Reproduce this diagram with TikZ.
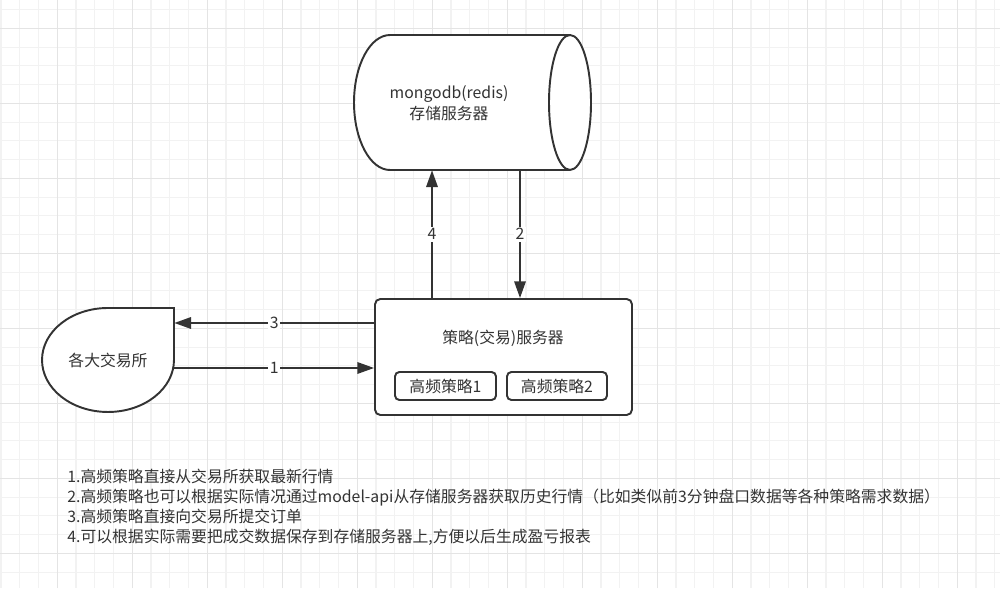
\documentclass[tikz,border=0pt]{standalone}
\usepackage{fontspec}
\setmainfont{Noto Sans CJK SC}
\usepackage{xcolor}
\usetikzlibrary{arrows.meta,positioning,calc}
\definecolor{linegray}{HTML}{333333}
\definecolor{gridminor}{HTML}{F2F2F2}
\definecolor{gridmajor}{HTML}{E4E4E4}

\begin{document}
\begin{tikzpicture}[x=0.02cm, y=0.02cm,
    every node/.style={font=\fontsize{9}{12}\selectfont, text=linegray},
    shapeline/.style={draw=linegray, line width=1.1pt, fill=white},
    flow/.style={draw=linegray, line width=1.1pt, -{Triangle[length=9.5pt, width=6.5pt]}},
    num/.style={midway, fill=white, inner sep=1pt}]
    % Background and grid
    \useasboundingbox (0,0) rectangle (1000,588);
    \fill[white] (0,0) rectangle (1000,588);
    \foreach \i in {0,...,53} \draw[gridminor, line width=0.6pt] ({1+18.75*\i},0) -- ++(0,588);
    \foreach \j in {0,...,30} \draw[gridminor, line width=0.6pt] (0,{578.45-18.75*\j}) -- ++(1000,0);
    \foreach \i in {0,...,12} \draw[gridmajor, line width=0.6pt] ({57.25+75*\i},0) -- ++(0,588);
    \foreach \j in {0,...,7} \draw[gridmajor, line width=0.6pt] (0,{559.7-75*\j}) -- ++(1000,0);

    % Storage server
    \node[minimum width=4.74cm, minimum height=2.7cm] (db) at (472.5,485.5) {};
    \draw[shapeline] (390,553) -- (570,553) arc[start angle=90, end angle=-90, x radius=0.42cm, y radius=1.35cm]
        -- (390,418) arc[start angle=270, end angle=90, x radius=0.72cm, y radius=1.35cm] -- cycle;
    \draw[shapeline, fill=none] (570,553) arc[start angle=90, end angle=270, x radius=0.42cm, y radius=1.35cm];
    \node[align=center] (dbtext) at (449,484.5) {mongodb(redis)\\存储服务器};

    % Strategy (trading) server
    \node[shapeline, rounded corners=3pt, minimum width=5.14cm, minimum height=2.32cm] (srv) at (503.5,231) {};
    \node (srvtitle) at (503,250) {策略(交易)服务器};
    \node[shapeline, rounded corners=2.5pt, minimum width=2.02cm, minimum height=0.56cm] (hf1) at (445.5,202) {高频策略1};
    \node[shapeline, rounded corners=2.5pt, minimum width=2.0cm, minimum height=0.56cm] (hf2) at (557,202) {高频策略2};

    % Exchanges
    \draw[shapeline] (174,280) -- (108,280) arc[start angle=90, end angle=360, x radius=1.32cm, y radius=1.04cm] -- cycle;
    \node[minimum width=2.64cm, minimum height=2.08cm] (ex) at (108,228) {各大交易所};

    % Data flows
    \draw[flow] (srv.west |- 0,265) -- node[num] {3} (ex.east |- 0,265);
    \draw[flow] (ex.east |- 0,220) -- node[num] {1} (srv.west |- 0,220);
    \draw[flow] (srv.north -| 432,0) -- node[num] {4} (db.south -| 432,0);
    \draw[flow] (db.south -| 520,0) -- node[num] {2} (srv.north -| 520,0);

    % Notes
    \node[anchor=north west, align=left, inner sep=0pt, font=\fontsize{9}{11.34}\selectfont] (notes) at (67,119) {%
        1.高频策略直接从交易所获取最新行情\\
        2.高频策略也可以根据实际情况通过model-api从存储服务器获取历史行情（比如类似前3分钟盘口数据等各种策略需求数据）\\
        3.高频策略直接向交易所提交订单\\
        4.可以根据实际需要把成交数据保存到存储服务器上,方便以后生成盈亏报表};
\end{tikzpicture}
\end{document}
